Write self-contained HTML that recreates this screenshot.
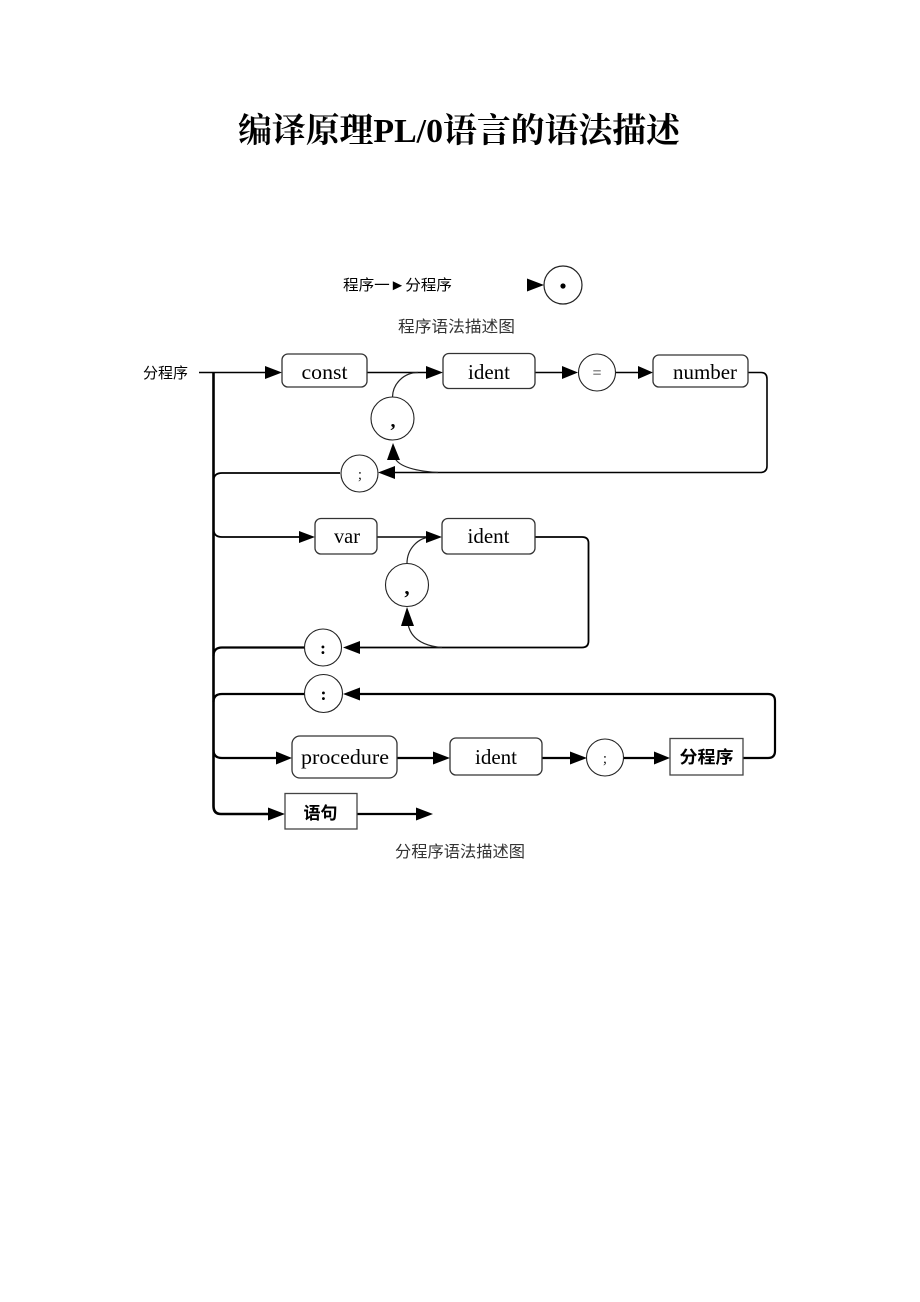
<!DOCTYPE html>
<html>
<head>
<meta charset="utf-8">
<style>
html,body{margin:0;padding:0;background:#fff;}
body{width:920px;height:1302px;position:relative;overflow:hidden;}
svg{position:absolute;left:0;top:0;}
</style>
</head>
<body>
<svg width="920" height="1302" viewBox="0 0 920 1302" xmlns="http://www.w3.org/2000/svg">
  <!-- Title -->
  <text x="459" y="142" text-anchor="middle" font-family="'Liberation Serif','Noto Serif CJK SC',serif" font-weight="bold" font-size="34" fill="#000" textLength="442" lengthAdjust="spacingAndGlyphs">编译原理PL/0语言的语法描述</text>

  <!-- Program diagram -->
  <text x="343" y="290" font-family="'Liberation Sans','Noto Sans CJK SC',sans-serif" font-size="15" fill="#000" textLength="109" lengthAdjust="spacingAndGlyphs">程序一►分程序</text>
  <polygon points="527,278.5 544,285 527,291.5" fill="#000"/>
  <circle cx="563" cy="285" r="19" fill="none" stroke="#222" stroke-width="1.2"/>
  <circle cx="563" cy="286" r="2.6" fill="#000"/>
  <text x="398" y="332" font-family="'Liberation Sans','Noto Sans CJK SC',sans-serif" font-size="16" fill="#333" textLength="117" lengthAdjust="spacingAndGlyphs">程序语法描述图</text>

  <!-- label -->
  <text x="143" y="378" font-family="'Liberation Sans','Noto Sans CJK SC',sans-serif" font-size="15" fill="#000" textLength="45" lengthAdjust="spacingAndGlyphs">分程序</text>

  <g fill="none" stroke="#000" stroke-linecap="butt">
    <!-- trunk -->
    <path d="M213.5,372 V806 Q213.5,814 221,814 H270" stroke-width="2.6"/>
    <!-- const row -->
    <path d="M199,372.5 H268" stroke-width="1.6"/>
    <path d="M367,372.5 H429" stroke-width="1.4"/>
    <path d="M535,372.5 H565" stroke-width="1.6"/>
    <path d="M615,372.5 H640" stroke-width="1.6"/>
    <path d="M748,372.5 H761 Q767,372.5 767,379 V466 Q767,472.5 760,472.5 H392" stroke-width="1.6"/>
    <!-- const comma loop -->
    <path d="M392.5,397 A25.5,25 0 0 1 418,372.5" stroke-width="1.2" stroke="#222"/>
    <path d="M438,472.5 Q398,470 394,456" stroke-width="1.2" stroke="#222"/>
    <!-- ; return to trunk -->
    <path d="M340,473 H222 Q213.5,473 213.5,481" stroke-width="1.8"/>

    <!-- var row -->
    <path d="M213.5,529 Q213.5,537 222,537 H302" stroke-width="1.8"/>
    <path d="M377,537 H430" stroke-width="1.6"/>
    <path d="M535,537 H582 Q588.5,537 588.5,543 V641 Q588.5,647.5 582,647.5 H357" stroke-width="1.8"/>
    <path d="M407,563.5 A25,26.5 0 0 1 432,537" stroke-width="1.2" stroke="#222"/>
    <path d="M442,647.5 Q412,645 408,624" stroke-width="1.2" stroke="#222"/>
    <path d="M304.5,647.5 H222 Q213.5,647.5 213.5,656" stroke-width="2.2"/>

    <!-- procedure loop -->
    <path d="M743,758 H768 Q775,758 775,751 V701 Q775,694 768,694 H357" stroke-width="2.2"/>
    <path d="M304.5,694 H222 Q213.5,694 213.5,702" stroke-width="2.2"/>
    <path d="M213.5,750 Q213.5,758 222,758 H280" stroke-width="2.2"/>
    <path d="M397,758 H436" stroke-width="2.2"/>
    <path d="M542,758 H573" stroke-width="2.2"/>
    <path d="M623,758 H658" stroke-width="2.2"/>
    <!-- statement -->
    <path d="M357,814 H420" stroke-width="2.2"/>
  </g>

  <!-- arrowheads (right-pointing) -->
  <g fill="#000">
    <polygon points="265,366 282,372.5 265,379"/>
    <polygon points="426,366 443,372.5 426,379"/>
    <polygon points="562,366 578,372.5 562,379"/>
    <polygon points="638,366 653,372.5 638,379"/>
    <polygon points="299,531 315,537 299,543"/>
    <polygon points="426,531 442,537 426,543"/>
    <polygon points="276,751.5 292,758 276,764.5"/>
    <polygon points="433,751.5 450,758 433,764.5"/>
    <polygon points="570,751.5 587,758 570,764.5"/>
    <polygon points="654,751.5 670,758 654,764.5"/>
    <polygon points="268,807.5 285,814 268,820.5"/>
    <polygon points="416,807.5 433,814 416,820.5"/>
    <!-- left-pointing -->
    <polygon points="395,466 378,472.5 395,479"/>
    <polygon points="360,641 343,647.5 360,654"/>
    <polygon points="360,687.5 343,694 360,700.5"/>
    <!-- up-pointing -->
    <polygon points="387,460 393,443 400,460"/>
    <polygon points="401,626 407,607 414,626"/>
  </g>

  <!-- circles -->
  <g fill="#fff" stroke="#222" stroke-width="1.1">
    <circle cx="597" cy="372.5" r="18.5"/>
    <circle cx="392.5" cy="418.5" r="21.5"/>
    <circle cx="359.5" cy="473.5" r="18.5"/>
    <circle cx="407" cy="585" r="21.5"/>
    <circle cx="323" cy="647.5" r="18.5"/>
    <circle cx="323.5" cy="693.5" r="19"/>
    <circle cx="605" cy="757.5" r="18.5"/>
  </g>

  <!-- circle labels -->
  <g font-family="'Liberation Serif',serif" fill="#000" text-anchor="middle">
    <text x="597" y="378" font-size="16" fill="#222">=</text>
    <text x="393" y="427" font-size="20" font-weight="bold">,</text>
    <text x="360" y="479" font-size="15" fill="#222">;</text>
    <text x="407" y="594" font-size="21" font-weight="bold">,</text>
    <text x="323" y="654" font-size="18" font-weight="bold">:</text>
    <text x="323.5" y="700" font-size="18" font-weight="bold">:</text>
    <text x="605" y="763" font-size="15" fill="#222">;</text>
  </g>

  <!-- rounded boxes -->
  <g fill="#fff" stroke="#333" stroke-width="1.3">
    <rect x="282" y="354" width="85" height="33" rx="6"/>
    <rect x="443" y="353.5" width="92" height="35" rx="6"/>
    <rect x="653" y="355" width="95" height="32" rx="6"/>
    <rect x="315" y="518.5" width="62" height="35.5" rx="6"/>
    <rect x="442" y="518.5" width="93" height="35.5" rx="6"/>
    <rect x="292" y="736" width="105" height="42" rx="8"/>
    <rect x="450" y="738" width="92" height="37" rx="6"/>
  </g>
  <!-- square boxes -->
  <g fill="#fff" stroke="#444" stroke-width="1.3">
    <rect x="670" y="738.5" width="73" height="36.5"/>
    <rect x="285" y="793.5" width="72" height="35.5"/>
  </g>

  <!-- box labels -->
  <g font-family="'Liberation Serif',serif" font-size="21" fill="#000" text-anchor="middle">
    <text x="324.5" y="379" textLength="46" lengthAdjust="spacingAndGlyphs">const</text>
    <text x="489" y="379" textLength="42" lengthAdjust="spacingAndGlyphs">ident</text>
    <text x="705" y="379" textLength="64" lengthAdjust="spacingAndGlyphs">number</text>
    <text x="347" y="543" textLength="26" lengthAdjust="spacingAndGlyphs">var</text>
    <text x="488.5" y="543" textLength="42" lengthAdjust="spacingAndGlyphs">ident</text>
    <text x="345" y="764" textLength="88" lengthAdjust="spacingAndGlyphs">procedure</text>
    <text x="496" y="764" textLength="42" lengthAdjust="spacingAndGlyphs">ident</text>
  </g>
  <g font-family="'Liberation Sans','Noto Sans CJK SC',sans-serif" font-size="17" font-weight="bold" fill="#000" text-anchor="middle">
    <text x="706.5" y="763" textLength="54" lengthAdjust="spacingAndGlyphs">分程序</text>
    <text x="320.5" y="819" textLength="34" lengthAdjust="spacingAndGlyphs">语句</text>
  </g>

  <!-- caption -->
  <text x="395" y="857" font-family="'Liberation Sans','Noto Sans CJK SC',sans-serif" font-size="16" fill="#333" textLength="130" lengthAdjust="spacingAndGlyphs">分程序语法描述图</text>
</svg>
</body>
</html>
